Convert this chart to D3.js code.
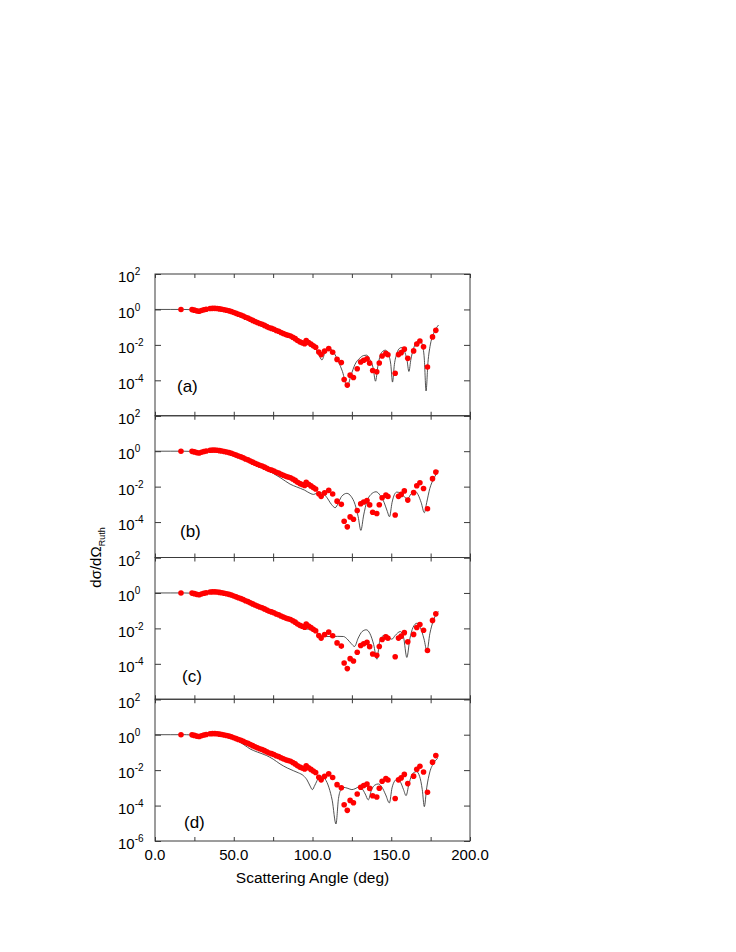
<!DOCTYPE html>
<html><head><meta charset="utf-8">
<script src="https://cdn.jsdelivr.net/npm/d3@7"></script>
<style>
body{margin:0;background:#fff}
svg{display:block}
text{font-family:"Liberation Sans",Arial,Helvetica,sans-serif;fill:#000}
</style>
</head><body>
<svg id="chart" width="736" height="952"></svg>
<script>
// ---------- DATA ----------
// experimental cross sections (ratio to Rutherford), given as log10 values
const expAngle = [16.5,23.5,25.0,26.5,28.0,29.5,31.0,32.5,35.0,36.5,38.0,39.5,41.0,42.5,44.0,45.5,47.0,48.5,50.0,51.5,53.0,54.5,56.0,57.5,59.0,60.5,62.0,63.5,65.0,66.5,68.0,69.5,71.0,72.5,74.0,75.5,77.0,78.5,80.0,81.5,83.0,84.5,86.0,87.5,89.0,90.5,92.0,93.5,95.0,96.0,97.5,99.0,100.5,102.0,104.0,105.5,107.7,110.3,112.8,115.6,118.3,120.1,122.1,123.9,126.0,128.4,130.6,132.5,134.6,136.3,138.2,140.8,142.4,144.2,146.6,147.9,152.5,154.6,156.3,158.3,160.5,164.2,166.2,168.2,170.5,173.0,176.2,178.3];
const expLog10 = [0.00,-0.01,-0.04,-0.08,-0.10,-0.06,-0.02,0.01,0.05,0.06,0.06,0.05,0.03,0.01,-0.02,-0.05,-0.08,-0.12,-0.17,-0.22,-0.27,-0.32,-0.37,-0.44,-0.49,-0.55,-0.62,-0.68,-0.74,-0.79,-0.84,-0.90,-0.97,-1.03,-1.07,-1.12,-1.19,-1.23,-1.30,-1.36,-1.42,-1.46,-1.50,-1.57,-1.65,-1.75,-1.83,-1.88,-1.93,-1.76,-1.87,-1.96,-2.05,-2.13,-2.40,-2.55,-2.35,-2.21,-2.42,-2.82,-3.00,-3.95,-4.27,-3.71,-3.84,-3.35,-2.97,-2.87,-2.79,-3.03,-3.45,-3.52,-3.02,-2.63,-2.48,-2.56,-3.60,-2.55,-2.44,-2.24,-2.76,-2.34,-1.95,-1.78,-2.11,-3.25,-1.55,-1.18];

// model curves: [angle, log10(sigma/sigma_Ruth)]
const modelA = [[0,0],[10,0],[18,0],[22,-0.01],[25,-0.04],[28,-0.08],[31,-0.03],[34,0.03],[37,0.05],[40,0.05],[43,0.0],[46,-0.06],[50,-0.17],[55,-0.34],[60,-0.53],[65,-0.74],[70,-0.93],[75,-1.11],[80,-1.30],[85,-1.48],[89,-1.65],[91.5,-1.85],[93.3,-2.0],[95.3,-1.88],[97.4,-1.78],[99.5,-1.9],[102,-2.2],[104,-2.55],[106,-2.85],[107.7,-2.5],[109,-2.27],[110.5,-2.18],[112,-2.25],[114,-2.5],[116.5,-2.95],[119,-3.5],[122,-4.35],[124.5,-3.7],[127,-3.1],[130,-2.75],[132.5,-2.6],[134.4,-2.58],[136.5,-2.85],[138.5,-3.3],[140,-4.05],[141.5,-3.2],[143,-2.6],[144.8,-2.35],[146.3,-2.3],[148,-2.5],[149.7,-3.1],[150.8,-4.1],[152,-3.1],[153.5,-2.5],[155.2,-2.2],[156.6,-2.15],[158.3,-2.35],[160,-2.85],[161.2,-3.5],[162.5,-2.8],[164,-2.25],[166,-1.85],[168,-1.72],[169.6,-1.95],[171,-2.8],[172.1,-4.6],[173.3,-3.0],[174.8,-2.0],[176.5,-1.45],[178.3,-1.1],[180,-0.88]];
const modelB = [[0,0],[10,0],[18,0],[22,-0.01],[25,-0.04],[28,-0.08],[31,-0.03],[34,0.03],[37,0.05],[40,0.05],[43,0.0],[46,-0.06],[50,-0.17],[55,-0.35],[60,-0.55],[65,-0.76],[70,-0.99],[75,-1.25],[80,-1.52],[85.8,-1.86],[90,-2.02],[95,-2.2],[99,-2.4],[100.6,-2.44],[102.5,-2.38],[104.5,-2.33],[106.5,-2.38],[109,-2.6],[112,-3.0],[114.4,-3.19],[116.5,-2.9],[118.5,-2.55],[121.8,-2.38],[124.5,-2.55],[127,-3.0],[129,-3.7],[130.7,-4.47],[132.5,-3.6],[134.5,-2.85],[137,-2.45],[140.4,-2.29],[143,-2.5],[145.5,-2.9],[147.5,-3.4],[148.9,-3.7],[150.5,-2.9],[152,-2.45],[153.5,-2.31],[155.5,-2.35],[158,-2.55],[160.4,-2.68],[162.5,-2.42],[165.2,-2.27],[167,-2.45],[169,-2.9],[171,-3.47],[172.5,-2.9],[174.5,-2.1],[177,-1.55],[180,-1.1]];
const modelC = [[0,0],[10,0],[18,0],[22,-0.01],[25,-0.04],[28,-0.08],[31,-0.03],[34,0.03],[37,0.05],[40,0.05],[43,0.0],[46,-0.06],[50,-0.17],[55,-0.34],[60,-0.54],[65,-0.74],[70,-0.93],[75,-1.11],[80,-1.30],[85,-1.48],[89,-1.68],[91,-1.8],[94.2,-2.0],[97.5,-2.05],[101.7,-2.14],[104,-2.35],[107,-2.46],[112,-2.46],[116,-2.45],[119.7,-2.46],[122,-2.6],[124.5,-2.85],[126.7,-3.02],[129,-2.55],[131.5,-2.18],[134.1,-2.08],[136.5,-2.3],[138.8,-2.9],[140.9,-3.74],[142.5,-2.8],[144.3,-2.45],[146.2,-2.37],[148.5,-2.5],[150.4,-2.61],[152.5,-2.4],[155.7,-2.18],[157.8,-2.5],[159.9,-3.64],[161.8,-2.6],[163.8,-1.95],[166.3,-1.71],[168.5,-1.95],[170.8,-2.6],[172.7,-3.27],[174.5,-2.3],[176.8,-1.55],[179,-1.14],[180,-1.05]];
const modelD = [[0,0],[10,0],[20,0],[25,-0.04],[28,-0.08],[31,-0.03],[34,0.03],[37,0.05],[40,0.05],[43,0.0],[46,-0.07],[50,-0.2],[54,-0.43],[57,-0.6],[60.3,-0.8],[65,-0.98],[70.9,-1.18],[75,-1.38],[79.4,-1.65],[84,-1.88],[87.8,-2.03],[91,-2.15],[94.2,-2.31],[96.5,-2.55],[98.5,-2.9],[99.9,-3.1],[101.5,-2.85],[103.5,-2.5],[105.8,-2.35],[108,-2.5],[110.5,-3.0],[112.5,-3.7],[114.9,-5.04],[116.5,-3.6],[118,-3.1],[119.6,-2.97],[122.5,-3.03],[125,-3.1],[127,-3.05],[129.5,-2.95],[131.5,-3.05],[133.5,-3.35],[135.4,-3.68],[137.5,-3.1],[139.5,-2.85],[141.8,-2.78],[144,-2.95],[146.5,-3.4],[148.8,-3.85],[150.5,-3.0],[152.3,-2.6],[154.1,-2.5],[156,-2.7],[157.8,-3.1],[159.4,-3.44],[161.2,-2.8],[163.5,-2.2],[166.1,-2.09],[168,-2.35],[169.7,-3.1],[171,-4.06],[172.5,-3.0],[174.5,-2.1],[177,-1.6],[179.5,-1.33]];

const panelLabels = ["(a)","(b)","(c)","(d)"];
const models = [modelA, modelB, modelC, modelD];
const xTickValues = [0,25,50,75,100,125,150,175,200];
const xLabelValues = [0,50,100,150,200];
const yTickExponents = [2,0,-2,-4,-6];
const xTitle = "Scattering Angle (deg)";

// ---------- LAYOUT ----------
const L = 155, R = 470, T = 274, B = 841;
const nP = 4, ph = (B - T) / nP;
const svg = d3.select("#chart");
svg.append("rect").attr("width",736).attr("height",952).attr("fill","#fff");

const x = d3.scaleLinear().domain([0,200]).range([L,R]);
const frameColor = "#3a3a3a";
const labelOffsets = [[177,392],[180,537],[182,682],[184,828]];

const expData = expAngle.map((a,i)=>({a, v: Math.pow(10, expLog10[i])}));

models.forEach((model, i) => {
  const top = T + i*ph, bot = top + ph;
  const y = d3.scaleLog().domain([1e-6,1e2]).range([bot, top]);
  const g = svg.append("g");
  const tickVals = yTickExponents.map(e => Math.pow(10, e));

  const styleAxis = sel => {
    sel.select(".domain").remove();
    sel.selectAll(".tick line").attr("stroke", frameColor).attr("stroke-width", 1);
  };
  g.append("g").attr("transform",`translate(0,${bot})`)
    .call(d3.axisBottom(x).tickValues(xTickValues).tickSize(-4).tickFormat("")).call(styleAxis);
  g.append("g").attr("transform",`translate(0,${top})`)
    .call(d3.axisTop(x).tickValues(xTickValues).tickSize(-4).tickFormat("")).call(styleAxis);
  g.append("g").attr("transform",`translate(${L},0)`)
    .call(d3.axisLeft(y).tickValues(tickVals).tickSize(-6).tickFormat("")).call(styleAxis);
  g.append("g").attr("transform",`translate(${R},0)`)
    .call(d3.axisRight(y).tickValues(tickVals).tickSize(-6).tickFormat("")).call(styleAxis);

  // frame
  g.append("rect").attr("x",L).attr("y",top).attr("width",R-L).attr("height",bot-top)
    .attr("fill","none").attr("stroke",frameColor).attr("stroke-width",1);

  // y tick labels
  const labExps = i === nP-1 ? yTickExponents : yTickExponents.filter(e => e !== -6);
  labExps.forEach(e => {
    const t = g.append("text").attr("x",118).attr("y", y(Math.pow(10,e)) + 8.3)
      .attr("font-size",15);
    t.append("tspan").text("10");
    t.append("tspan").attr("dy",-7).attr("font-size",10).text(e < 0 ? "-" + (-e) : String(e));
  });

  // model curve
  const line = d3.line()
    .x(d => x(d[0]))
    .y(d => y(Math.pow(10, d[1])))
    .curve(d3.curveMonotoneX);
  g.append("path").datum(model).attr("d", line)
    .attr("fill","none").attr("stroke","#333").attr("stroke-width",0.85);

  // experimental points
  g.append("g").selectAll("circle").data(expData).join("circle")
    .attr("cx", d => x(d.a)).attr("cy", d => y(d.v)).attr("r", 2.8)
    .attr("fill","#ff0000");

  // panel label
  g.append("text").attr("x", labelOffsets[i][0]).attr("y", labelOffsets[i][1])
    .attr("font-size",17).text(panelLabels[i]);
});

// x tick labels (bottom panel)
svg.append("g").selectAll("text").data(xLabelValues).join("text")
  .attr("x", d => x(d)).attr("y", 860).attr("text-anchor","middle")
  .attr("font-size",15).text(d => d.toFixed(1));

// x title
svg.append("text").attr("x", (L+R)/2).attr("y", 883).attr("text-anchor","middle")
  .attr("font-size",15.5).text(xTitle);

// y title
const yt = svg.append("text").attr("transform",`translate(101,${(T+B)/2}) rotate(-90)`)
  .attr("text-anchor","middle").attr("font-size",15);
yt.append("tspan").text("dσ/dΩ");
yt.append("tspan").attr("dy",4).attr("font-size",9).text("Ruth");
</script>
</body></html>
